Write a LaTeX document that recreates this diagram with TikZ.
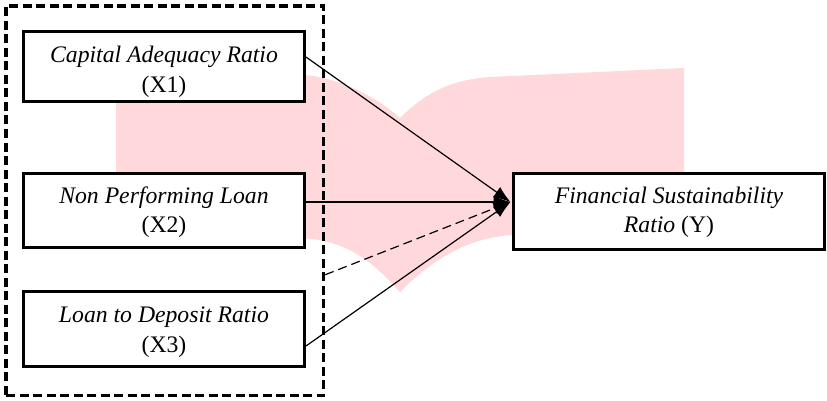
\documentclass[tikz,border=0pt]{standalone}
\usepackage{fontspec}
\setmainfont{Liberation Serif}
\usetikzlibrary{arrows.meta,calc}
\definecolor{wmpink}{RGB}{255,216,219}
\begin{document}
\begin{tikzpicture}[x=1pt,y=-1pt,
  varbox/.style={draw=black,line width=3pt,fill=white,inner sep=0pt},
  boxtext/.style={align=center,inner sep=0pt,font=\fontsize{23.7}{29.5}\selectfont},
  path link/.style={line width=1.2pt,-{Latex[length=17pt,width=12.5pt]}},
  dashlink/.style={path link,dash pattern=on 9pt off 5pt}]
\useasboundingbox (0,0) rectangle (827,401);
% pale background ribbon
\fill[wmpink] (116,240) -- (116,92) .. controls (116,80) and (240,72) .. (305,75)
  .. controls (345,79) and (380,100) .. (400,118) -- (400,292)
  .. controls (375,265) and (350,240) .. (300,238)
  .. controls (220,233) and (116,236) .. cycle;
\fill[wmpink] (400,118) .. controls (420,98) and (445,80) .. (490,77)
  -- (684,68) -- (684,230) -- (512,235)
  .. controls (465,238) and (430,262) .. (400,292) -- cycle;
% group frame around the independent variables
\node[draw=black,line width=3.5pt,dash pattern=on 9pt off 4.5pt,inner sep=0pt,
  minimum width=317.5pt,minimum height=389.5pt] (grp) at (164.75,200.75) {};
% variable boxes
\node[varbox,minimum width=281pt,minimum height=70pt] (x1) at (164,66.5) {};
\node[varbox,minimum width=281pt,minimum height=74pt] (x2) at (164,210.5) {};
\node[varbox,minimum width=281pt,minimum height=75pt] (x3) at (164,329) {};
\node[varbox,minimum width=311pt,minimum height=76pt] (y) at (669,211) {};
\node[boxtext] (x1t) at (164,72) {\textit{Capital Adequacy Ratio}\\(X1)};
\node[boxtext] (x2t) at (164,212) {\textit{Non Performing Loan}\\(X2)};
\node[boxtext] (x3t) at (164,332) {\textit{Loan to Deposit Ratio}\\(X3)};
\node[boxtext] (yt) at (669,212.5) {\textit{Financial Sustainability}\\\textit{Ratio} (Y)};
% paths to the dependent variable
\coordinate (tip) at ([yshift=9pt,xshift=-1.5pt]y.west);
\draw[path link] ([yshift=9.5pt]x1.east) -- (tip);
\draw[path link] ([yshift=8.5pt]x2.east) -- (tip);
\draw[dashlink] ([yshift=-74pt]grp.east) -- (tip);
\draw[path link] ([yshift=-17pt]x3.east) -- (tip);
\end{tikzpicture}
\end{document}
